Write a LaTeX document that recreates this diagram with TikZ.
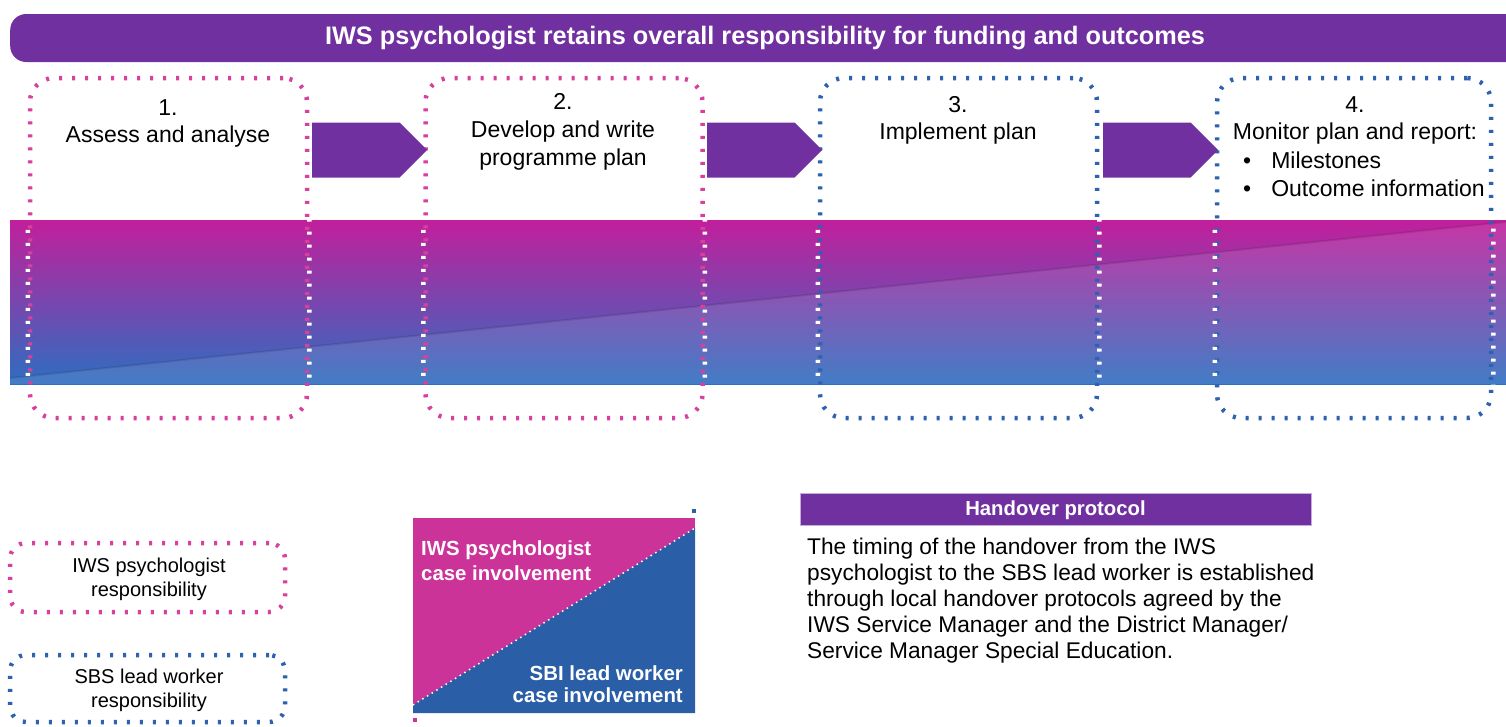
\documentclass[tikz,border=0pt]{standalone}
\usepackage{fontspec}
\setmainfont{Liberation Sans}
\usetikzlibrary{shapes.symbols}
\definecolor{purp}{HTML}{7030A0}
\definecolor{mag}{HTML}{D8409E}
\definecolor{blu}{HTML}{2E62B0}
\definecolor{gtop}{HTML}{C21F9C}
\definecolor{gbot}{HTML}{2D6EC0}
\definecolor{legmag}{HTML}{CC3399}
\definecolor{legblu}{HTML}{2A5EA6}
\tikzset{
  rulerline/.style={line width=4.5pt, dash pattern=on 3pt off 10pt,
     preaction={draw, line width=1pt, opacity=0.6}},
  stepbox/.style={rectangle, rounded corners=24pt, rulerline, inner sep=0pt},
  legbox/.style={rectangle, rounded corners=16pt, rulerline, inner sep=0pt},
  steptext/.style={align=center, font=\fontsize{23}{27}\selectfont, inner sep=0pt},
  legtext/.style={align=center, font=\fontsize{20}{24}\selectfont, inner sep=0pt},
  whitetext/.style={text=white, font=\bfseries\fontsize{20.4}{25}\selectfont, inner sep=0pt},
  flowarrow/.style={signal, signal to=east, signal from=nowhere, signal pointer angle=90,
     fill=purp, draw=none, minimum width=115pt, minimum height=55pt, inner sep=0pt},
}
\begin{document}
\begin{tikzpicture}[x=1pt, y=-1pt]
\useasboundingbox (0,0) rectangle (1506,726);
% banner
\node (banner) [fill=purp, rounded corners=16pt, minimum width=1540pt, minimum height=48pt, anchor=west, inner sep=0pt] at (10,38) {};
\node (bannertext) [text=white, font=\bfseries\fontsize{25.3}{28}\selectfont, inner sep=0pt] at (765,38)
  {IWS psychologist retains overall responsibility for funding and outcomes};
% gradient band
\shade[top color=gtop, bottom color=gbot] (10,220) rectangle (1506,384);
\fill[white, opacity=0.1] (10,378) -- (1506,222) -- (1506,384) -- (10,384) -- cycle;
\draw[black, opacity=0.1, line width=2pt] (10,378) -- (1506,222);
% step boxes
\node (b1) [stepbox, draw=mag, minimum width=277pt, minimum height=340pt] at (168.5,248) {};
\node (b2) [stepbox, draw=mag, minimum width=277pt, minimum height=340pt] at (564,248) {};
\node (b3) [stepbox, draw=blu, minimum width=277pt, minimum height=340pt] at (958.5,248) {};
\node (b4) [stepbox, draw=blu, minimum width=274pt, minimum height=340pt] at (1354,248) {};
\begin{scope}
  \clip (10,220) rectangle (1506,384);
  \foreach \n in {b1,b2,b3,b4} {
    \draw[white, line width=4.5pt, dash pattern=on 3pt off 10pt, rounded corners=24pt]
      (\n.north west) rectangle (\n.south east);
  }
\end{scope}
% arrows
\node (a1) [flowarrow, anchor=west] at (312,150) {};
\node (a2) [flowarrow, anchor=west] at (707,150) {};
\node (a3) [flowarrow, anchor=west] at (1103,150) {};
% step texts
\node (t1) [steptext] at (168,123.5) {1.\\Assess and analyse};
\node (t2) [steptext, font=\fontsize{23}{28}\selectfont] at (563,132) {2.\\Develop and write\\programme plan};
\node (t3) [steptext] at (958,120.5) {3.\\Implement plan};
\node (t4) [steptext] at (1355,120.5) {4.\\Monitor plan and report:};
\node (t4a) [steptext, anchor=west] at (1243,160) {\textbullet\hspace{20pt}Milestones};
\node (t4b) [steptext, anchor=west] at (1243,188) {\textbullet\hspace{20pt}Outcome information};
% legend boxes
\node (l1) [legbox, draw=mag, minimum width=275pt, minimum height=69pt] at (147.5,577.5) {};
\node (l1t) [legtext] at (149,579) {IWS psychologist\\responsibility};
\node (l2) [legbox, draw=blu, minimum width=275pt, minimum height=67pt] at (147.5,688.5) {};
\node (l2t) [legtext] at (149,690) {SBS lead worker\\responsibility};
% diagonal legend
\fill[legmag] (413,518) rectangle (695,713);
\fill[legblu] (413,705) -- (695,528) -- (695,713) -- (413,713) -- cycle;
\draw[white, line width=1.5pt, dash pattern=on 1.5pt off 4pt] (413,705) -- (695,528);
\fill[legblu] (692,509) rectangle (696,513);
\fill[legmag] (413,718) rectangle (417,722);
\node (d1) [whitetext, align=left, anchor=west] at (421,561) {IWS psychologist\\case involvement};
\node (d2) [whitetext, align=right, anchor=east, font=\bfseries\fontsize{20.4}{22}\selectfont] at (683,684) {SBI lead worker\\case involvement};
% handover
\node (hp) [fill=purp, draw=purp!40, minimum width=511pt, minimum height=32pt, inner sep=0pt] at (1055.5,509) {};
\node (hpt) [whitetext, font=\bfseries\fontsize{20.3}{22}\selectfont] at (1055.5,510) {Handover protocol};
\node (para) [align=left, anchor=west, inner sep=0pt, font=\fontsize{22.7}{26}\selectfont] at (807,601)
 {The timing of the handover from the IWS\\
  psychologist to the SBS lead worker is established\\
  through local handover protocols agreed by the\\
  IWS Service Manager and the District Manager/\\
  Service Manager Special Education.};
\end{tikzpicture}
\end{document}
